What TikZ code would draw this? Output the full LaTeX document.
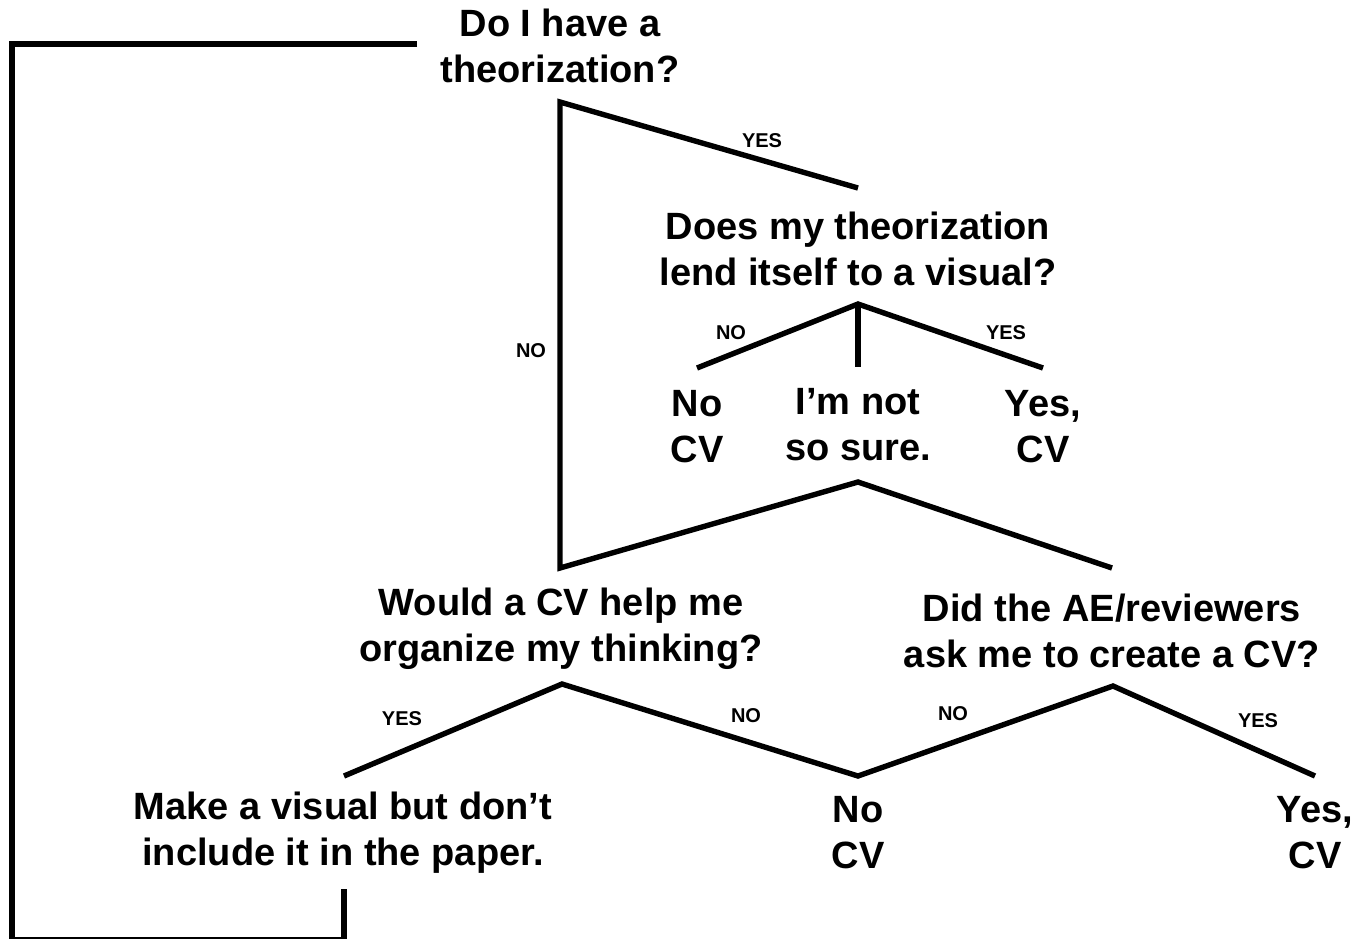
\documentclass[tikz,border=0pt]{standalone}
\usepackage{fontspec}
\setmainfont{Liberation Sans}
\begin{document}
\begin{tikzpicture}[x=1pt,y=-1pt,
  branch/.style={line width=5.4pt, line join=miter},
  question/.style={font=\fontsize{38}{46}\selectfont\bfseries, align=center, inner sep=0pt},
  answer/.style={font=\fontsize{20}{24}\selectfont\bfseries, inner sep=0pt}]
\useasboundingbox (0,0) rectangle (1357,938);

% questions and outcomes
\node[question] (q1) at (560,46) {Do I have a\\theorization?};
\node[question] (q2) at (858,249) {Does my theorization\\lend itself to a visual?};
\node[question] (nocvA) at (697,427) {No\\CV};
\node[question] (unsure) at (858,425) {I’m not\\so sure.};
\node[question] (yescvA) at (1043,427) {Yes,\\CV};
\node[question] (q3) at (561,629) {Would a CV help me\\organize my thinking?};
\node[question] (q4) at (1112,631) {Did the AE/reviewers\\ask me to create a CV?};
\node[question] (make) at (343,833) {Make a visual but don’t\\include it in the paper.};
\node[question] (nocvB) at (858,833) {No\\CV};
\node[question] (yescvB) at (1315,833) {Yes,\\CV};

% branch points
\coordinate (loopA) at (417,44);
\coordinate (loopB) at (12,44);
\coordinate (loopC) at (12,940);
\coordinate (loopD) at (344,940);
\coordinate (loopE) at (344,889);

\coordinate (t0) at (560,102);
\coordinate (t1) at (858,188);
\coordinate (t2) at (560,568);
\coordinate (t3) at (858,482);
\coordinate (t4) at (1112,568);

\coordinate (v0) at (858,304);
\coordinate (v1) at (697,368);
\coordinate (v2) at (858,367);
\coordinate (v3) at (1043,368);

\coordinate (w0) at (344,776);
\coordinate (w1) at (562,684);
\coordinate (w2) at (858,776);
\coordinate (w3) at (1113,686);
\coordinate (w4) at (1315,776);

% connectors
\draw[branch] (loopA) -- (loopB) -- (loopC) -- (loopD) -- (loopE);
\draw[branch] (t1) -- (t0) -- (t2) -- (t3) -- (t4);
\draw[branch] (v1) -- (v0) -- (v3);
\draw[branch] (v0) -- (v2);
\draw[branch] (w0) -- (w1) -- (w2) -- (w3) -- (w4);

% branch labels
\node[answer] (l1) at (762,141) {YES};
\node[answer] (l2) at (531,351) {NO};
\node[answer] (l3) at (731,333) {NO};
\node[answer] (l4) at (1006,333) {YES};
\node[answer] (l5) at (402,719) {YES};
\node[answer] (l6) at (746,716) {NO};
\node[answer] (l7) at (953,714) {NO};
\node[answer] (l8) at (1258,721) {YES};
\end{tikzpicture}
\end{document}
